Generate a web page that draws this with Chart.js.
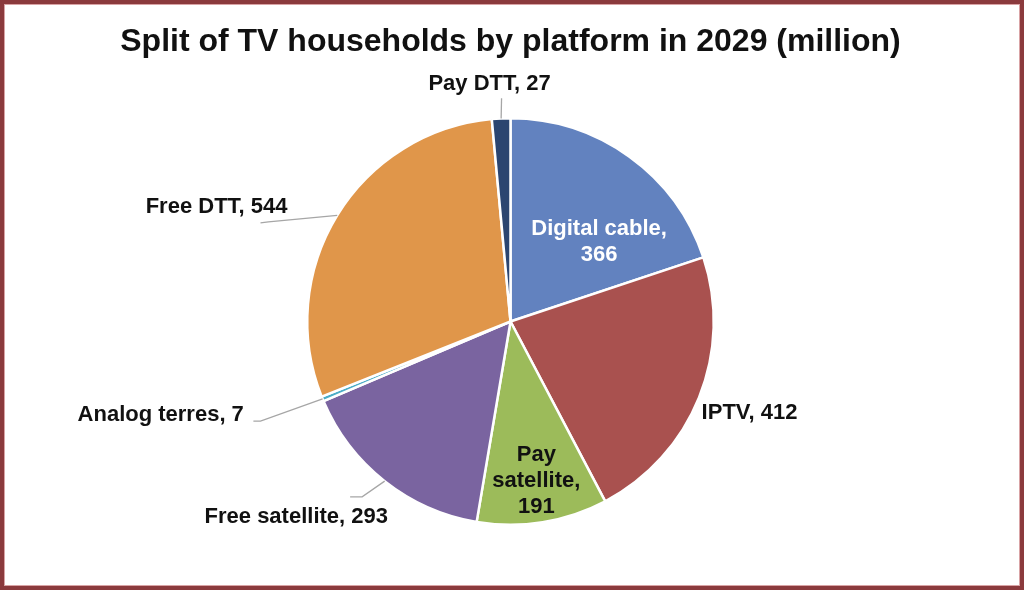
<!DOCTYPE html>
<html>
<head>
<meta charset="utf-8">
<script src="https://cdn.jsdelivr.net/npm/chart.js@4.4.1/dist/chart.umd.min.js"></script>
<style>
  body { margin: 0; background: #fff; }
  #wrap { position: relative; width: 1024px; height: 590px; }
  #frame {
    position: absolute; left: 0; top: 0; width: 1024px; height: 590px;
    box-sizing: border-box; border: 4px solid #8B3A3D;
    box-shadow: inset 0 0 0 1px #D9A3A5; pointer-events: none;
  }
</style>
</head>
<body>
<div id="wrap">
  <canvas id="myChart" width="1024" height="590"></canvas>
  <div id="frame"></div>
</div>
<script>
//Chart data.
const title = "Split of TV households by platform in 2029 (million)";
const platforms = ["Digital cable", "IPTV", "Pay satellite", "Free satellite", "Analog terres", "Free DTT", "Pay DTT"];
const households = [366, 412, 191, 293, 7, 544, 27];
const sliceColors = ["#6282BF", "#A9514F", "#9CBB5A", "#7A64A0", "#4BACC6", "#E0964A", "#2B4570"];

//Where each label sits, in units of the pie radius from the centre.
//leader = points (also in radius units) the leader line runs to from the slice edge.
const labelLayout = [
  { x: 0.436, y: -0.392, color: "#fff", wrap: "value" },
  { x: 1.176, y: 0.452 },
  { x: 0.127, y: 0.786, wrap: "words" },
  { x: -1.054, y: 0.962, leader: [[-0.730, 0.863], [-0.789, 0.863]] },
  { x: -1.721, y: 0.460, leader: [[-1.230, 0.490], [-1.265, 0.490]] },
  { x: -1.446, y: -0.564, leader: [[-1.191, -0.490], [-1.230, -0.485]] },
  { x: -0.103, y: -1.170, leader: [[-0.044, -1.098]] }
];

const FONT = "'Liberation Sans', Arial, sans-serif";

//Build the text lines for a slice label.
function labelLines(i) {
  let layout = labelLayout[i];
  if (layout.wrap === "value") {
    return [platforms[i] + ",", String(households[i])];
  }
  if (layout.wrap === "words") {
    let words = platforms[i].split(" ");
    words[words.length - 1] += ",";
    return words.concat([String(households[i])]);
  }
  return [platforms[i] + ", " + households[i]];
}

//Plugin that draws the data labels and leader lines.
const sliceLabels = {
  id: "sliceLabels",
  afterDatasetsDraw(chart) {
    let ctx = chart.ctx;
    let meta = chart.getDatasetMeta(0);
    ctx.save();
    ctx.font = "bold 22px " + FONT;
    ctx.textAlign = "center";
    ctx.textBaseline = "middle";

    meta.data.forEach((arc, i) => {
      let p = arc.getProps(["x", "y", "startAngle", "endAngle", "outerRadius"], true);
      let r = p.outerRadius;
      let layout = labelLayout[i];

      //Leader line from the slice edge.
      if (layout.leader) {
        let mid = (p.startAngle + p.endAngle) / 2;
        ctx.beginPath();
        ctx.strokeStyle = "#A6A6A6";
        ctx.lineWidth = 1.3;
        ctx.moveTo(p.x + Math.cos(mid) * r, p.y + Math.sin(mid) * r);
        layout.leader.forEach(pt => {
          ctx.lineTo(p.x + pt[0] * r, p.y + pt[1] * r);
        });
        ctx.stroke();
      }

      //Label text.
      let lines = labelLines(i);
      let lineHeight = 26;
      let cx = p.x + layout.x * r;
      let cy = p.y + layout.y * r - (lines.length - 1) * lineHeight / 2;
      ctx.fillStyle = layout.color || "#111";
      lines.forEach((line, k) => {
        ctx.fillText(line, cx, cy + k * lineHeight);
      });
    });
    ctx.restore();
  }
};

let ctx = document.getElementById("myChart").getContext("2d");

let myChart = new Chart(ctx, {
  type: "pie",
  data: {
    labels: platforms,
    datasets: [{
      data: households,
      backgroundColor: sliceColors,
      borderColor: "#fff",
      borderWidth: 2.5
    }]
  },
  options: {
    responsive: false,
    animation: false,
    layout: {
      padding: { top: 0, bottom: 64, left: 0, right: 3 }
    },
    plugins: {
      legend: { display: false },
      tooltip: { enabled: false },
      title: {
        display: true,
        text: title,
        color: "#111",
        font: { family: FONT, size: 32, weight: "bold", lineHeight: 1.2 },
        padding: { top: 23, bottom: 55.6 }
      }
    }
  },
  plugins: [sliceLabels]
});
</script>
</body>
</html>
